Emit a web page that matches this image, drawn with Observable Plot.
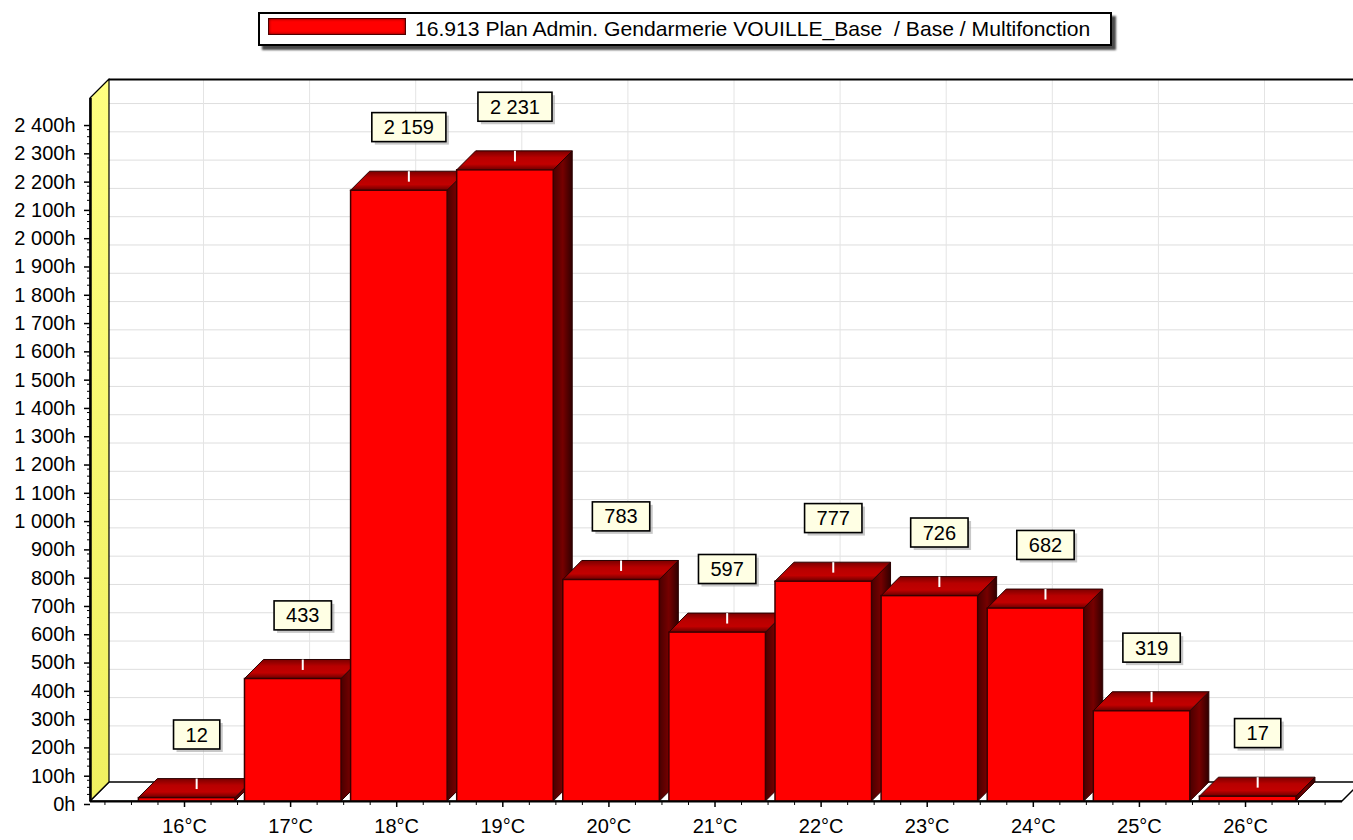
<!DOCTYPE html>
<html>
<head>
<meta charset="utf-8">
<script src="https://cdn.jsdelivr.net/npm/d3@7"></script>
<script src="https://cdn.jsdelivr.net/npm/@observablehq/plot@0.6"></script>
<style>
  html, body { margin: 0; padding: 0; background: #fff; }
  body { font-family: "Liberation Sans", Arial, sans-serif; }
  #wrap { position: relative; width: 1353px; height: 840px; overflow: hidden; background: #fff; }
  #legend { position: relative; width: 1353px; height: 60px; }
  #lbox { position: absolute; left: 258px; top: 12px; width: 854px; height: 34px; box-sizing: border-box;
          border: 2px solid #000; background: #fff; box-shadow: 4px 4px 2px #4a4a4a; }
  #sw { position: absolute; left: 8px; top: 4px; width: 138px; height: 17px; box-sizing: border-box;
        background: #ff0000; border: 1px solid #500000; box-shadow: inset 0 0 3px #600000; }
  #ltxt { position: absolute; left: 155px; top: 0; height: 30px; line-height: 30px; white-space: pre; color: #000; }
  #chart svg { display: block; }
</style>
</head>
<body>
<div id="wrap">
  <div id="legend"><div id="lbox"><div id="sw"></div><div id="ltxt"></div></div></div>
  <div id="chart"></div>
</div>
<script>
// ---- data ----
const categories = ["16°C", "17°C", "18°C", "19°C", "20°C", "21°C", "22°C", "23°C", "24°C", "25°C", "26°C"];
const hours = [12, 433, 2159, 2231, 783, 597, 777, 726, 682, 319, 17];
const yTickValues = [0, 100, 200, 300, 400, 500, 600, 700, 800, 900, 1000, 1100, 1200,
                     1300, 1400, 1500, 1600, 1700, 1800, 1900, 2000, 2100, 2200, 2300, 2400];
const seriesName = "16.913 Plan Admin. Gendarmerie VOUILLE_Base  / Base / Multifonction";

// ---- geometry (styling constants) ----
const W = 1353, H = 780;
const YMAX = 2485;
const X0 = -0.886, XE = 10.914;
const DX = 0.179;
const DY = 67.2;
const HW = 0.455;
const OFF = 0.025;

const fr = d3.formatLocale({decimal: ",", thousands: " ", grouping: [3], currency: ["", ""]});
const fmtInt = fr.format(",d");
const fmtH = d => fmtInt(d) + "h";

// legend
const ltxt = document.getElementById("ltxt");
ltxt.textContent = seriesName;
{
  const ctx = document.createElement("canvas").getContext("2d");
  ctx.font = '20px "Liberation Sans"';
  const w = ctx.measureText(seriesName).width;
  ltxt.style.fontSize = (20 * 677 / w).toFixed(2) + "px";
}

const bars = categories.map((c, i) => ({c, i, v: hours[i], L: i + OFF - HW, R: i + OFF + HW, cx: i + OFF + DX / 2}));
const tops = bars.flatMap(b => [
  {c: b.c, y: b.v, x1: b.L, x2: b.R},
  {c: b.c, y: b.v + DY, x1: b.L + DX, x2: b.R + DX}
]);
const sides = bars.flatMap(b => [
  {c: b.c, x: b.R, y1: 0, y2: b.v},
  {c: b.c, x: b.R + DX, y1: DY, y2: b.v + DY}
]);
const floorPts = [
  {y: 0, x1: X0, x2: XE},
  {y: DY, x1: X0 + DX, x2: XE + DX}
];
const wallPts = [
  {x: X0, y1: 0, y2: YMAX},
  {x: X0 + DX, y1: DY, y2: YMAX + DY}
];
const idx = categories.map((c, i) => i);
const xMinor = d3.range(-0.75, 10.9, 0.25).filter(t => Math.abs(t - Math.round(t)) > 1e-6);
const yMinor = d3.range(0, 2401, 25).filter(t => t % 100 !== 0);

const plot = Plot.plot({
  width: W, height: H,
  marginLeft: 90, marginRight: 11, marginTop: 38, marginBottom: 39,
  x: {type: "linear", domain: [X0, XE], axis: null},
  y: {type: "linear", domain: [0, YMAX], axis: null},
  style: {fontFamily: '"Liberation Sans", Arial, sans-serif', color: "#000", background: "transparent", overflow: "visible"},
  marks: [
    Plot.ruleY(yTickValues.slice(1), {y: d => d + DY, x1: X0 + DX, x2: XE + 0.3, stroke: "#dedede", strokeWidth: 1}),
    Plot.ruleX(idx, {x: i => i + DX, y1: DY, y2: YMAX + DY, stroke: "#e4e4e4", strokeWidth: 1}),
    Plot.ruleY([YMAX + DY], {x1: X0 + DX, x2: XE + 0.3, stroke: "#000", strokeWidth: 2}),
    Plot.areaX(floorPts, {y: "y", x1: "x1", x2: "x2", fill: "#fff", stroke: "#000", strokeWidth: 1.5}),
    Plot.areaY(wallPts, {x: "x", y1: "y1", y2: "y2", fill: "url(#wallGrad)", stroke: "#000", strokeWidth: 1.2}),
    Plot.areaY(sides, {x: "x", y1: "y1", y2: "y2", z: "c", fill: "url(#sideGrad)", stroke: "#2a0000", strokeWidth: 1}),
    Plot.areaX(tops, {y: "y", x1: "x1", x2: "x2", z: "c", fill: "url(#topGrad)", stroke: "#2a0000", strokeWidth: 1}),
    Plot.rectY(bars, {x1: "L", x2: "R", y1: 0, y2: "v", fill: "#ff0000", stroke: "#3a0000", strokeWidth: 1.5}),
    Plot.ruleX(bars, {x: "cx", y1: d => d.v + DY * 0.45, y2: d => d.v + DY, stroke: "#fff", strokeWidth: 2}),
    Plot.ruleY([0], {x1: X0, x2: XE, stroke: "#000", strokeWidth: 2}),
    Plot.ruleX([X0], {y1: 0, y2: YMAX, stroke: "#000", strokeWidth: 2.5}),
    Plot.axisY({ticks: yTickValues, tickFormat: fmtH, tickSize: 6, tickPadding: 9, fontSize: 20, dy: 3, label: null, strokeWidth: 1.5}),
    Plot.axisY({ticks: yMinor, tickFormat: () => "", tickSize: 3, label: null}),
    Plot.axisX({ticks: idx, tickFormat: i => categories[i], tickSize: 6, tickPadding: 11, fontSize: 20, label: null, strokeWidth: 1.5}),
    Plot.axisX({ticks: xMinor, tickFormat: () => "", tickSize: 4, label: null}),
    Plot.text(bars, {x: "cx", y: d => d.v + DY, text: d => fmtInt(d.v), dy: -44, fontSize: 20, fill: "#000"})
  ]
});

document.getElementById("chart").appendChild(plot);

const svg = d3.select(plot);
const defs = svg.insert("defs", ":first-child");
function grad(id, x2, y2, stops) {
  const g = defs.append("linearGradient").attr("id", id).attr("x1", 0).attr("y1", 0).attr("x2", x2).attr("y2", y2);
  stops.forEach(([o, c]) => g.append("stop").attr("offset", o).attr("stop-color", c));
}
grad("topGrad", 0, 1, [[0, "#7a0000"], [0.35, "#b80000"], [0.7, "#c20000"], [1, "#6a0000"]]);
grad("sideGrad", 1, 0, [[0, "#4a0000"], [0.5, "#760000"], [1, "#300000"]]);
grad("wallGrad", 0, 1, [[0, "#ffff80"], [1, "#f0f060"]]);

// label boxes with shadow, behind each value label
const labelSet = new Set(hours.map(fmtInt));
const NS = "http://www.w3.org/2000/svg";
plot.querySelectorAll("text").forEach(el => {
  if (!labelSet.has(el.textContent)) return;
  const bb = el.getBBox();
  const padX = 12, h = 29;
  const cy = bb.y + bb.height / 2;
  const t = el.getAttribute("transform");
  const parent = el.parentNode;
  const mk = (dx, fill, extra) => {
    const r = document.createElementNS(NS, "rect");
    r.setAttribute("x", bb.x - padX + dx); r.setAttribute("y", cy - h / 2 + dx);
    r.setAttribute("width", bb.width + 2 * padX); r.setAttribute("height", h);
    r.setAttribute("fill", fill);
    for (const k in extra) r.setAttribute(k, extra[k]);
    if (t) r.setAttribute("transform", t);
    parent.insertBefore(r, el);
  };
  mk(3, "#9a9a9a", {"fill-opacity": 0.55});
  mk(0, "#ffffe4", {stroke: "#000", "stroke-width": 1.6});
});
</script>
</body>
</html>
